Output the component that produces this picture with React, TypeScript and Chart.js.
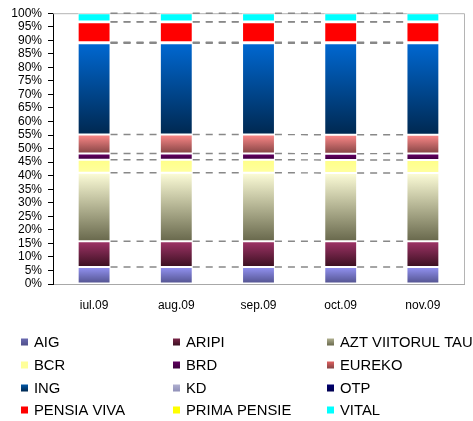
import React, { useEffect, useRef } from 'react';
import { Chart, registerables } from 'chart.js';
Chart.register(...registerables);

const categories = ['iul.09', 'aug.09', 'sep.09', 'oct.09', 'nov.09'];
const seriesNames = ['AIG', 'ARIPI', 'AZT VIITORUL TAU', 'BCR', 'BRD', 'EUREKO', 'ING', 'KD', 'OTP', 'PENSIA VIVA', 'PRIMA PENSIE', 'VITAL'];
const aig = [6.3, 6.3, 6.3, 6.3, 6.3];
const aripi = [9.5, 9.5, 9.5, 9.5, 9.5];
const azt = [25.3, 25.3, 25.3, 25.2, 25.2];
const bcr = [4.8, 4.8, 4.8, 4.8, 4.8];
const brd = [2.3, 2.3, 2.3, 2.3, 2.4];
const eureko = [7.0, 7.0, 7.0, 7.0, 6.9];
const ing = [33.7, 33.7, 33.7, 33.8, 33.8];
const kd = [0.2, 0.2, 0.2, 0.2, 0.2];
const otp = [0.2, 0.2, 0.2, 0.2, 0.2];
const pensiaViva = [7.4, 7.4, 7.4, 7.4, 7.4];
const primaPensie = [0.2, 0.2, 0.2, 0.2, 0.2];
const vital = [3.1, 3.1, 3.1, 3.1, 3.1];
const seriesValues = [aig, aripi, azt, bcr, brd, eureko, ing, kd, otp, pensiaViva, primaPensie, vital];

// [top colour, bottom colour]
const gradients: [string, string][] = [
  ['#9494f4', '#50508a'],
  ['#a03468', '#3a1020'],
  ['#fdfdd8', '#68684c'],
  ['#ffff88', '#ffffa0'],
  ['#6a006a', '#3c003c'],
  ['#ff8a8a', '#844444'],
  ['#0068d2', '#002850'],
  ['#c8c8e8', '#9090b8'],
  ['#000088', '#000050'],
  ['#ff0000', '#ff0000'],
  ['#ffff00', '#ffff00'],
  ['#00ffff', '#00ffff'],
];
const legendMarker = ['#6a6ab0', '#7a2548', '#b0b090', '#ffff99', '#600060', '#e06060', '#0058a8', '#b0b0d0', '#000070', '#ff0000', '#ffff00', '#00ffff'];

const FONT = '"Liberation Sans", Arial, sans-serif';

export default function App() {
  const ref = useRef<HTMLCanvasElement>(null);
  useEffect(() => {
    document.body.style.margin = '0';
    const canvas = ref.current!;
    const bg = (d: number) => (ctx: any) => {
      const chart = ctx.chart;
      const y = chart.scales?.y;
      const [c1, c2] = gradients[d];
      if (!y || !chart.chartArea) return c1;
      const i = ctx.dataIndex;
      let base = 0;
      for (let k = 0; k < d; k++) base += seriesValues[k][i];
      const top = base + seriesValues[d][i];
      const y0 = y.getPixelForValue(top);
      const y1 = y.getPixelForValue(base);
      if (!isFinite(y0) || !isFinite(y1) || y0 === y1) return c1;
      const g = chart.ctx.createLinearGradient(0, y0, 0, y1);
      g.addColorStop(0, c1);
      g.addColorStop(1, c2);
      return g;
    };
    const seriesLines = {
      id: 'seriesLines',
      beforeDatasetsDraw(chart: any) {
        const c = chart.ctx;
        const a = chart.chartArea;
        c.save();
        c.strokeStyle = '#b4b4b4';
        c.lineWidth = 1;
        c.beginPath();
        c.moveTo(a.left, a.top + 0.5);
        c.lineTo(a.right + 0.5, a.top + 0.5);
        c.lineTo(a.right + 0.5, a.bottom);
        c.stroke();
        c.restore();
      },
      afterDatasetsDraw(chart: any) {
        const c = chart.ctx;
        c.save();
        c.strokeStyle = '#888888';
        c.lineWidth = 1.4;
        c.setLineDash([7, 6]);
        chart.data.datasets.forEach((_: any, d: number) => {
          const meta = chart.getDatasetMeta(d);
          for (let i = 0; i < meta.data.length - 1; i++) {
            const e1 = meta.data[i] as any;
            const e2 = meta.data[i + 1] as any;
            c.beginPath();
            c.moveTo(e1.x + e1.width / 2, e1.y);
            c.lineTo(e2.x - e2.width / 2, e2.y);
            c.stroke();
          }
        });
        c.restore();
      },
    };
    const customLegend = {
      id: 'customLegend',
      afterDraw(chart: any) {
        const c = chart.ctx;
        c.save();
        c.font = `14.8px ${FONT}`;
        c.textBaseline = 'middle';
        c.fillStyle = '#000';
        const colX = [21, 173, 327];
        const rowY = [342, 365, 388, 410];
        seriesNames.forEach((name, idx) => {
          const col = idx % 3;
          const row = Math.floor(idx / 3);
          const x = colX[col];
          const y = rowY[row];
          const c2 = gradients[idx][1];
          const g = c.createLinearGradient(0, y - 3.5, 0, y + 3.5);
          g.addColorStop(0, legendMarker[idx]);
          g.addColorStop(1, idx === 3 || idx >= 9 ? legendMarker[idx] : c2);
          c.fillStyle = g;
          c.fillRect(x, y - 3.5, 7, 7);
          c.fillStyle = '#000';
          c.fillText(name, x + 13, y + 0.5);
        });
        c.restore();
      },
    };
    const chart = new Chart(canvas, {
      type: 'bar',
      data: {
        labels: categories,
        datasets: seriesNames.map((name, d) => ({
          label: name,
          data: seriesValues[d],
          backgroundColor: bg(d),
          borderColor: '#ffffff',
          borderWidth: 1,
          borderSkipped: false,
          barPercentage: 0.4,
          categoryPercentage: 1,
        })),
      },
      options: {
        animation: false,
        responsive: false,
        maintainAspectRatio: false,
        layout: { padding: { top: 11, right: 9, left: 0, bottom: 0 } },
        plugins: { legend: { display: false }, tooltip: { enabled: false } },
        scales: {
          x: {
            stacked: true,
            grid: { drawOnChartArea: false, drawTicks: false },
            border: { color: '#a8a8a8', width: 1 },
            ticks: { color: '#000', font: { family: FONT, size: 12 }, padding: 14, maxRotation: 0 },
            afterFit: (s: any) => { s.height = 137; },
          },
          y: {
            stacked: true,
            min: 0,
            max: 100,
            grid: { drawOnChartArea: false, drawTicks: true, tickLength: 5, color: '#000' },
            border: { color: '#000', width: 1 },
            ticks: {
              stepSize: 5,
              autoSkip: false,
              color: '#000',
              font: { family: FONT, size: 12 },
              padding: 6,
              callback: (v: any) => `${v}%`,
            },
            afterFit: (s: any) => { s.width = 53; },
          },
        },
      },
      plugins: [seriesLines, customLegend],
    });
    return () => chart.destroy();
  }, []);
  return <canvas ref={ref} width={473} height={421} style={{ display: 'block', width: 473, height: 421 }} />;
}
